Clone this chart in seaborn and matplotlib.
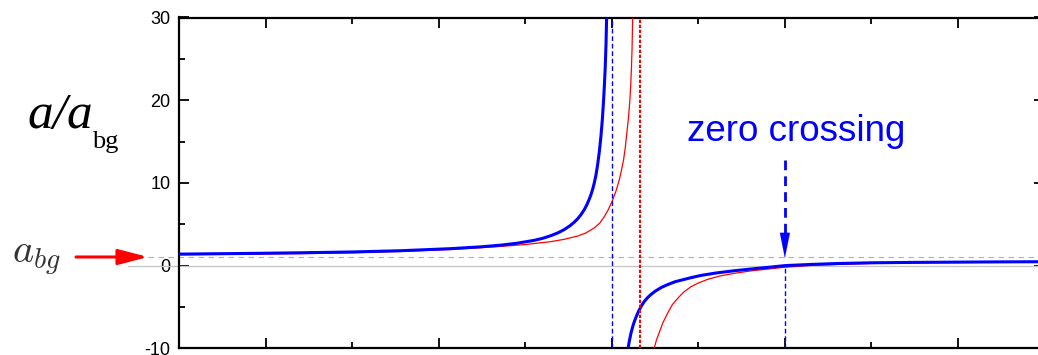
import matplotlib
matplotlib.use("Agg")
import matplotlib.pyplot as plt
import pandas as pd
import seaborn as sns

# Field B (units of one minor tick, resonance of the blue model at 0) and a/a_bg
blue_left_B = [-5.0, -4.3, -3.6, -3.0, -2.44, -1.86, -1.5, -1.28, -1.1, -0.90,
               -0.80, -0.705, -0.62, -0.55, -0.49, -0.44, -0.397, -0.36, -0.32,
               -0.29, -0.265, -0.243, -0.222, -0.205, -0.185, -0.165, -0.145,
               -0.127, -0.111, -0.096, -0.085, -0.077, -0.068, -0.061, -0.056]
blue_left_val = [1.39, 1.46, 1.55, 1.65, 1.80, 2.05, 2.28, 2.48, 2.70, 3.05,
                 3.30, 3.62, 3.98, 4.36, 4.78, 5.20, 5.65, 6.12, 6.75,
                 7.35, 7.95, 8.55, 9.25, 9.94, 10.9, 12.2, 13.8,
                 15.6, 17.6, 20.0, 22.2, 24.0, 26.8, 30.0, 32.0]

blue_right_B = [0.186, 0.20, 0.22, 0.24, 0.258, 0.28, 0.305, 0.335, 0.37, 0.41,
                0.451, 0.50, 0.57, 0.644, 0.73, 0.836, 0.93, 1.029, 1.2, 1.41,
                1.6, 1.80, 2.00, 2.3, 2.6, 3.0, 3.5, 4.0, 4.5, 5.0]
blue_right_val = [-10.1, -9.2, -8.2, -7.4, -6.8, -6.2, -5.6, -4.98, -4.4, -3.9,
                  -3.5, -3.1, -2.65, -2.3, -1.95, -1.67, -1.42, -1.19, -0.9, -0.63,
                  -0.42, -0.22, 0.0, 0.14, 0.25, 0.34, 0.39, 0.42, 0.45, 0.47]

red_left_B = [-5.0, -4.3, -3.6, -3.0, -2.44, -1.86, -1.28, -1.0, -0.705, -0.55,
              -0.397, -0.30, -0.205, -0.14, -0.089, -0.04, 0.008, 0.045, 0.084,
              0.11, 0.135, 0.155, 0.170, 0.19, 0.208, 0.218, 0.226, 0.233,
              0.240, 0.244]
red_left_val = [1.32, 1.38, 1.45, 1.55, 1.72, 1.95, 2.32, 2.55, 2.90, 3.18,
                3.57, 3.95, 4.55, 5.15, 5.90, 6.80, 7.92, 8.95, 10.3,
                11.5, 12.8, 14.3, 15.8, 17.7, 20.0, 21.9, 23.9, 26.2,
                30.0, 32.0]

red_right_B = [0.489, 0.515, 0.547, 0.59, 0.644, 0.70, 0.76, 0.83, 0.913, 1.0,
               1.106, 1.25, 1.414, 1.6, 1.80, 2.00, 2.3, 2.6, 3.0, 3.5, 4.0,
               4.5, 5.0]
red_right_val = [-10.0, -9.0, -8.1, -6.9, -5.75, -4.7, -3.97, -3.2, -2.56, -2.1,
                 -1.67, -1.25, -0.94, -0.65, -0.42, -0.2, 0.02, 0.14, 0.26, 0.34,
                 0.38, 0.42, 0.44]

# resonance positions and zero crossing
res_blue = 0.0
res_red = 0.324
zero_cross = 2.0
abg_level = 1.0

y_ticks = [-10, 0, 10, 20, 30]
y_minor = [-5, 5, 15, 25]
x_ticks = [-4, -2, 0, 2, 4]
x_minor = [-3, -1, 1, 3]

sns.set_theme(style="ticks")
plt.rcParams["font.family"] = ["Liberation Sans", "DejaVu Sans"]
plt.rcParams["mathtext.fontset"] = "cm"
plt.rcParams["axes.unicode_minus"] = False

W, H = 1038, 355
fig = plt.figure(figsize=(W / 100, H / 100), dpi=100)
fig.patch.set_facecolor("white")
ax = fig.add_axes([179.4 / W, (H - 348.3) / H, 865.0 / W, 330.8 / H])
ax.set_facecolor("white")

# reference levels a = 0 and a = a_bg, reaching out past the left spine
ax.plot([-5.59, 5.0], [0, 0], color="#c4c4c4", lw=0.9, clip_on=False, zorder=1)
ax.plot([-5.59, 5.0], [abg_level, abg_level], color="#b0b0b0", lw=0.8,
        ls=(0, (5, 4)), clip_on=False, zorder=1)

# the two scattering-length curves
curves = pd.concat([
    pd.DataFrame({"B": red_left_B, "ratio": red_left_val, "part": "red_l"}),
    pd.DataFrame({"B": red_right_B, "ratio": red_right_val, "part": "red_r"}),
    pd.DataFrame({"B": blue_left_B, "ratio": blue_left_val, "part": "blue_l"}),
    pd.DataFrame({"B": blue_right_B, "ratio": blue_right_val, "part": "blue_r"}),
])
for part, color, lw in [("red_l", "#ff0000", 0.9), ("red_r", "#ff0000", 0.9),
                        ("blue_l", "#0000ff", 2.2), ("blue_r", "#0000ff", 2.2)]:
    sub = curves[curves["part"] == part]
    sns.lineplot(data=sub, x="B", y="ratio", ax=ax, color=color, lw=lw,
                 sort=False, estimator=None, zorder=3)

# resonance markers
ax.axvline(res_blue, color="#0000ff", lw=1.0, ls=(0, (3.4, 2.0)), zorder=4)
ax.axvline(res_red, color="#ff0000", lw=1.5, ls=(0, (1.6, 0.8)), zorder=4)
ax.plot([zero_cross, zero_cross], [-10, 0], color="#0000ff", lw=1.0,
        ls=(0, (3.4, 2.0)), zorder=4)

# dashed arrow pointing at the zero crossing
ax.plot([zero_cross, zero_cross], [12.75, 3.8], color="#0000ff", lw=2.0,
        ls=(0, (3.5, 2.2)), zorder=4, solid_capstyle="butt", dash_capstyle="butt")
ax.annotate("", xy=(zero_cross, 0.9), xytext=(zero_cross, 4.1),
            arrowprops=dict(arrowstyle="-|>,head_length=18,head_width=3.6",
                            mutation_scale=1, color="#0000ff", lw=0.1,
                            shrinkA=0, shrinkB=0), zorder=5)

ax.set_xlim(-5, 5)
ax.set_ylim(-10, 30)
ax.set_xticks(x_ticks)
ax.set_xticks(x_minor, minor=True)
ax.set_yticks(y_ticks)
ax.set_yticks(y_minor, minor=True)
ax.set_xticklabels([])
ax.set_yticklabels([str(v) for v in y_ticks])
ax.set_xlabel("")
ax.set_ylabel("")
ax.tick_params(which="both", direction="in", top=True, right=True,
               width=1.3, color="black", labelcolor="black")
ax.tick_params(which="major", length=7.5, labelsize=13, pad=6.5)
ax.tick_params(which="minor", length=4.3)
for s in ax.spines.values():
    s.set_color("black")
    s.set_linewidth(1.6)

# axis title a/a_bg
fig.text(27 / W, 1 - 128 / H, "a/a", family=["Liberation Serif"], color="black",
         style="italic", fontsize=37, va="baseline", ha="left")
fig.text(92 / W, 1 - 148 / H, "bg", family=["Liberation Serif"], color="black",
         fontsize=19, va="baseline", ha="left")

# a_bg marker with red arrow
fig.text(12 / W, 1 - 263 / H, r"$a_{bg}$", fontsize=29, color="#333333",
         va="baseline", ha="left")
ax.annotate("", xy=(148, H - 257), xycoords="figure pixels",
            xytext=(76, H - 257), textcoords="figure pixels",
            arrowprops=dict(arrowstyle="-|>,head_length=18,head_width=4.7",
                            mutation_scale=1, color="#ff0000", lw=2.2,
                            shrinkA=0, shrinkB=0), annotation_clip=False)

fig.text(687 / W, 1 - 140.7 / H, "zero crossing", color="#0000ff",
         fontsize=26.5, va="baseline", ha="left")

fig.savefig("out.png", dpi=100)
